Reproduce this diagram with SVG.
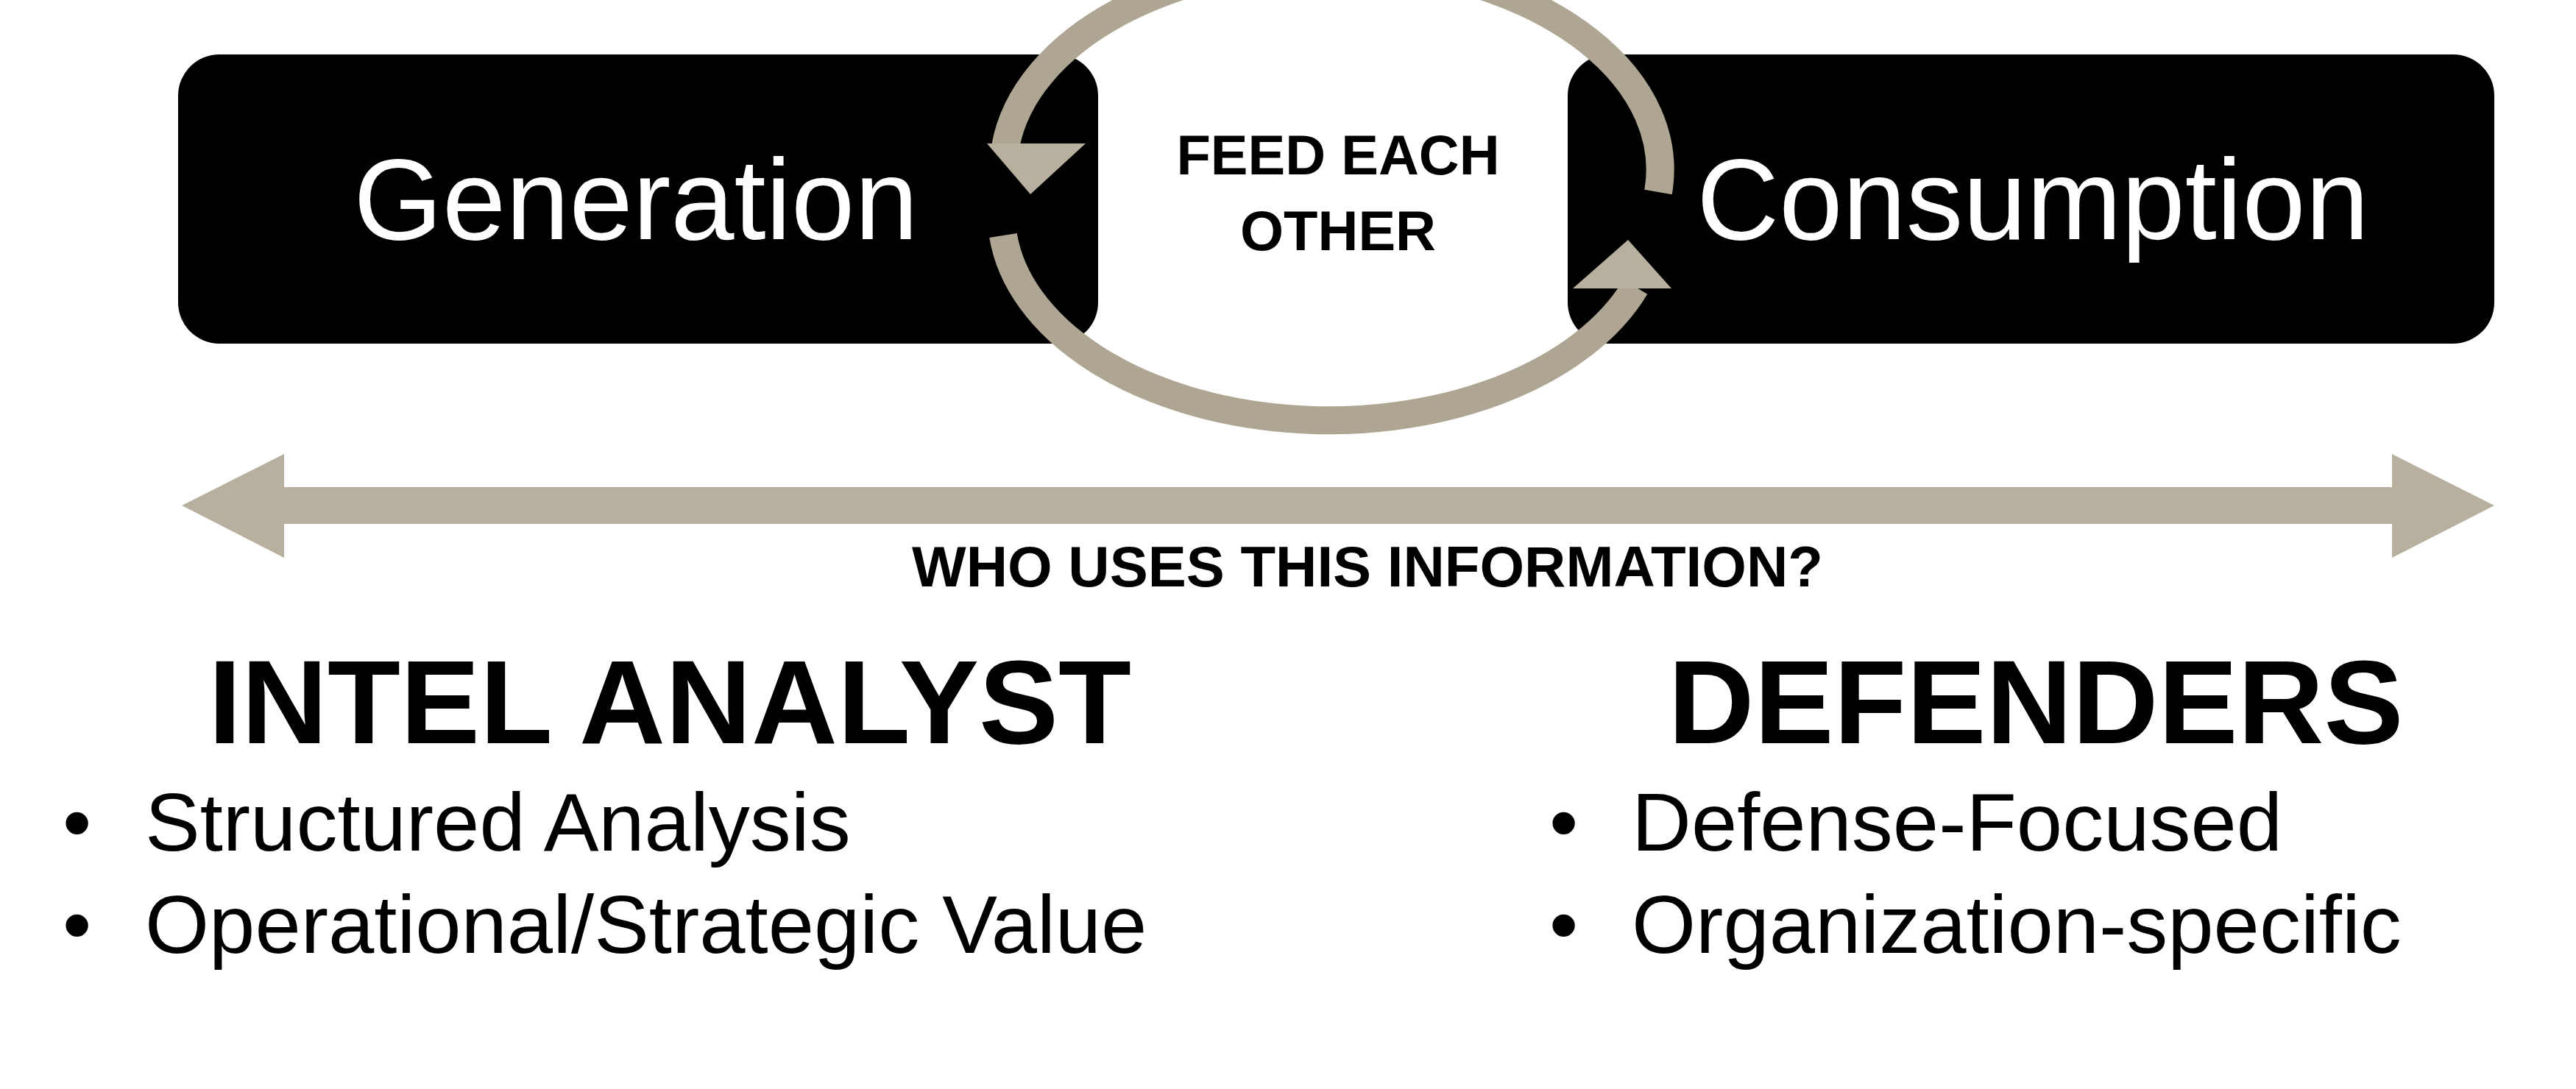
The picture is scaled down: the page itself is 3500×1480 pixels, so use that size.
<svg xmlns="http://www.w3.org/2000/svg" width="3500" height="1480" viewBox="0 0 3500 1480">
<style>
.box{fill:#000}
.wt{fill:#fff;font-family:"Liberation Sans",Arial,sans-serif;font-size:155px}
.bt{fill:#000;font-family:"Liberation Sans",Arial,sans-serif}
.b{font-weight:bold}
.ring{fill:none;stroke:#aea693;stroke-width:38}
.tan{fill:#b8b09e}
</style>
<rect width="3500" height="1480" fill="#fff"/>
<g id="generation">
<rect class="box" x="242" y="74" width="1250" height="393" rx="56"/>
<text class="wt" x="864" y="325" text-anchor="middle">Generation</text>
</g>
<g id="consumption">
<rect class="box" x="2130" y="74" width="1259" height="393" rx="56"/>
<text class="wt" x="2762" y="325" text-anchor="middle">Consumption</text>
</g>
<g id="feed">
<path d="M1500,90 Q1808,-40 2120,90 L2120,460 Q1808,620 1500,460 Z" fill="#fff"/>
<text class="bt b" font-size="76" x="1818" y="237" text-anchor="middle">FEED EACH</text>
<text class="bt b" font-size="76" x="1818" y="340" text-anchor="middle">OTHER</text>
</g>
<g id="connectors">
<path class="ring" d="M2253,261 A445,280 0 0 0 1366,200"/>
<polygon class="tan" points="1341,195 1475,195 1400,264"/>
<path class="ring" d="M1363,320 A445,280 0 0 0 2222,390"/>
<polygon class="tan" points="2137,392 2271,392 2212,326"/>
<polygon class="tan" points="247,687 386,617 386,662 3250,662 3250,617 3389,687 3250,758 3250,712 386,712 386,758"/>
</g>
<text class="bt b" font-size="78" x="1858" y="797" text-anchor="middle">WHO USES THIS INFORMATION?</text>
<g id="intel">
<text class="bt b" font-size="162" x="910" y="1010" text-anchor="middle">INTEL ANALYST</text>
<text class="bt" font-size="112" x="85" y="1156">•</text>
<text class="bt" font-size="112" x="197" y="1156">Structured Analysis</text>
<text class="bt" font-size="112" x="85" y="1295">•</text>
<text class="bt" font-size="112" x="197" y="1295">Operational/Strategic Value</text>
</g>
<g id="defenders">
<text class="bt b" font-size="162" x="2766" y="1010" text-anchor="middle">DEFENDERS</text>
<text class="bt" font-size="112" x="2105" y="1156">•</text>
<text class="bt" font-size="112" x="2217" y="1156">Defense-Focused</text>
<text class="bt" font-size="112" x="2105" y="1295">•</text>
<text class="bt" font-size="112" x="2217" y="1295">Organization-specific</text>
</g>
</svg>
